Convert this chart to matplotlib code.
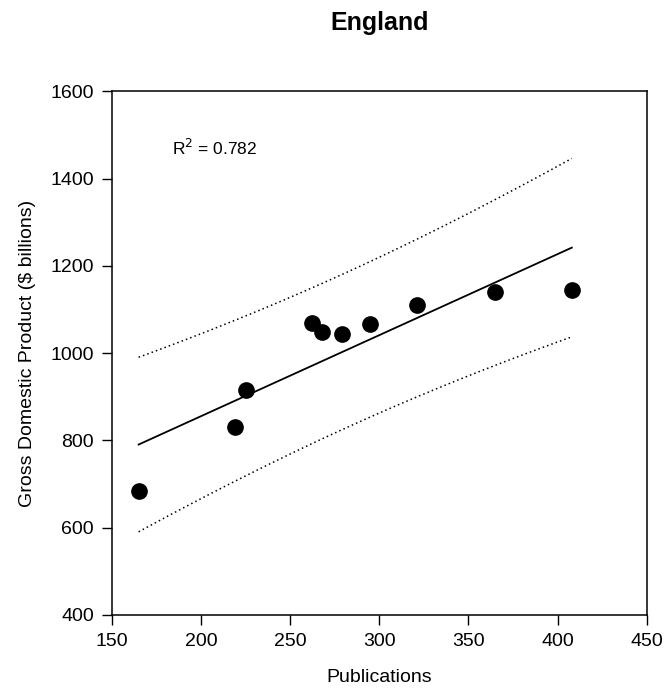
import numpy as np
import matplotlib
matplotlib.use("Agg")
import matplotlib.pyplot as plt

plt.rcParams['font.family'] = ['Liberation Sans', 'DejaVu Sans']

publications = [165, 219, 225, 262, 268, 279, 295, 321, 365, 408]
gdp = [684, 830, 916, 1070, 1048, 1044, 1067, 1110, 1139, 1145]
r2_label = "R$^2$ = 0.782"
title = "England"
xticks = [150, 200, 250, 300, 350, 400, 450]
yticks = [400, 600, 800, 1000, 1200, 1400, 1600]

x = np.array(publications, dtype=float)
y = np.array(gdp, dtype=float)
n = len(x)
slope, intercept = np.polyfit(x, y, 1)
resid = y - (slope * x + intercept)
s = np.sqrt(np.sum(resid ** 2) / (n - 2))
t = 2.306  # t(0.975, 8)
sxx = np.sum((x - x.mean()) ** 2)
xs = np.linspace(x.min(), x.max(), 100)
fit = slope * xs + intercept
half = t * s * np.sqrt(1 + 1 / n + (xs - x.mean()) ** 2 / sxx)

fig = plt.figure(figsize=(6.66, 6.91), dpi=100)
ax = fig.add_axes([0.168, 0.110, 0.803, 0.758])

ax.plot(xs, fit, color='black', lw=1.3)
ax.plot(xs, fit + half, color='black', lw=1.1, linestyle=(0, (1, 2)))
ax.plot(xs, fit - half, color='black', lw=1.1, linestyle=(0, (1, 2)))
ax.plot(x, y, 'o', color='black', markersize=11, zorder=3)

ax.set_xlim(150, 450)
ax.set_ylim(400, 1600)
ax.set_xticks(xticks)
ax.set_yticks(yticks)
ax.tick_params(direction='out', length=7, width=1.0, labelsize=14, pad=6)
for sp in ax.spines.values():
    sp.set_linewidth(1.1)

ax.text(184, 1469, r2_label, fontsize=12.5, ha='left', va='center')
ax.set_xlabel("Publications", fontsize=14, labelpad=14)
ax.set_ylabel("Gross Domestic Product ($ billions)", fontsize=14, labelpad=10)
ax.set_title(title, fontsize=18, fontweight='bold', pad=44)

fig.savefig("out.png", dpi=100)
